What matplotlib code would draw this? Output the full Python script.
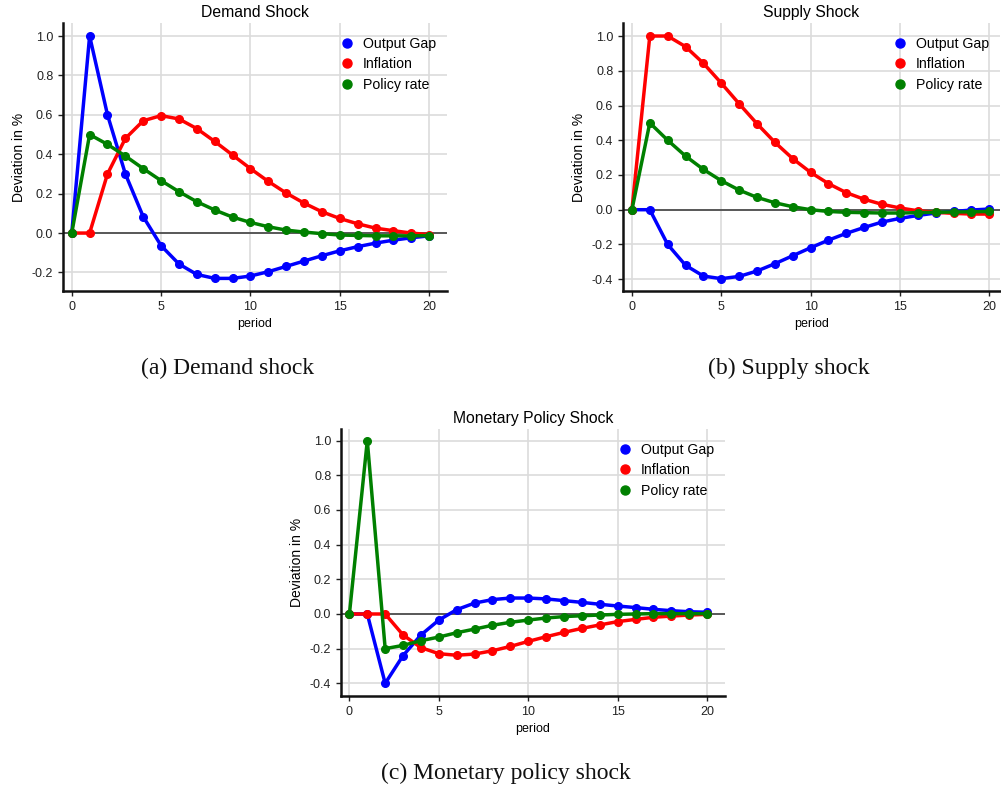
import matplotlib
matplotlib.use("Agg")
import matplotlib.pyplot as plt
from matplotlib.lines import Line2D

periods = list(range(21))

# Demand shock
demand_output = [0, 1.0, 0.6, 0.3, 0.083, -0.064, -0.157, -0.21, -0.23, -0.23, -0.218,
                 -0.196, -0.169, -0.142, -0.115, -0.09, -0.069, -0.051, -0.036, -0.024, -0.014]
demand_infl = [0, 0, 0.3, 0.48, 0.57, 0.596, 0.579, 0.53, 0.465, 0.396, 0.327,
               0.262, 0.203, 0.152, 0.108, 0.074, 0.047, 0.025, 0.012, 0.0, -0.008]
demand_rate = [0, 0.5, 0.45, 0.391, 0.327, 0.266, 0.21, 0.159, 0.117, 0.081, 0.054,
               0.032, 0.015, 0.005, -0.003, -0.01, -0.012, -0.014, -0.014, -0.014, -0.013]

# Supply shock
supply_output = [0, 0, -0.2, -0.32, -0.382, -0.397, -0.384, -0.353, -0.311, -0.265, -0.219,
                 -0.175, -0.136, -0.102, -0.071, -0.05, -0.033, -0.019, -0.01, -0.002, 0.004]
supply_infl = [0, 1.0, 1.0, 0.939, 0.843, 0.729, 0.61, 0.495, 0.388, 0.294, 0.215,
               0.15, 0.098, 0.06, 0.031, 0.01, -0.006, -0.015, -0.021, -0.025, -0.025]
supply_rate = [0, 0.5, 0.4, 0.309, 0.232, 0.167, 0.113, 0.071, 0.04, 0.017, 0.0,
               -0.01, -0.015, -0.017, -0.019, -0.019, -0.017, -0.015, -0.013, -0.012, -0.01]

# Monetary policy shock
mp_output = [0, 0, -0.4, -0.24, -0.121, -0.035, 0.025, 0.063, 0.083, 0.092, 0.092,
             0.087, 0.077, 0.067, 0.056, 0.046, 0.037, 0.027, 0.019, 0.013, 0.01]
mp_infl = [0, 0, 0, -0.121, -0.194, -0.229, -0.238, -0.231, -0.212, -0.187, -0.158,
           -0.131, -0.106, -0.083, -0.063, -0.044, -0.031, -0.019, -0.012, -0.006, -0.002]
mp_rate = [0, 1.0, -0.2, -0.181, -0.154, -0.133, -0.108, -0.087, -0.065, -0.048, -0.035,
           -0.023, -0.015, -0.01, -0.006, -0.002, 0.0, 0.002, 0.002, 0.002, 0.002]

series_names = ["Output Gap", "Inflation", "Policy rate"]
series_colors = ["#0000ff", "#ff0000", "#008000"]
titles = ["Demand Shock", "Supply Shock", "Monetary Policy Shock"]
captions = ["(a) Demand shock", "(b) Supply shock", "(c) Monetary policy shock"]
yticks = [-0.4, -0.2, 0.0, 0.2, 0.4, 0.6, 0.8, 1.0]
xticks = [0, 5, 10, 15, 20]

plt.rcParams['font.family'] = ['Liberation Sans', 'DejaVu Sans']

W, H = 1001, 792
fig = plt.figure(figsize=(W / 100, H / 100), dpi=100)

def rect(x0, y0, x1, y1):
    return [x0 / W, 1 - y1 / H, (x1 - x0) / W, (y1 - y0) / H]

panels = [
    (rect(63, 23, 447, 291), (-0.49, 21.0), (-0.294, 1.066),
     [demand_output, demand_infl, demand_rate], (228, 368)),
    (rect(623, 23, 1000, 291), (-0.5, 20.6), (-0.468, 1.075),
     [supply_output, supply_infl, supply_rate], (789, 368)),
    (rect(341, 429, 725, 696), (-0.47, 21.0), (-0.473, 1.067),
     [mp_output, mp_infl, mp_rate], (506, 773)),
]

for (r, xl, yl, data, cap), title, caption in zip(panels, titles, captions):
    ax = fig.add_axes(r)
    ax.set_xlim(*xl)
    ax.set_ylim(*yl)
    ax.grid(True, color="#dcdcdc", linewidth=1.2)
    ax.set_axisbelow(True)
    ax.axhline(0, color="#333333", linewidth=1.1, zorder=1)
    for vals, c in zip(data, series_colors):
        ax.plot(periods, vals, color=c, linewidth=2.5, marker="o", markersize=5.5, zorder=3)
    ax.set_xticks(xticks)
    ax.set_yticks([t for t in yticks if yl[0] <= t <= yl[1]])
    ax.yaxis.set_major_formatter(matplotlib.ticker.FormatStrFormatter("%.1f"))
    ax.tick_params(labelsize=9, length=3.5, width=1, colors="#222222")
    for s in ["top", "right"]:
        ax.spines[s].set_visible(False)
    for s in ["left", "bottom"]:
        ax.spines[s].set_linewidth(1.8)
        ax.spines[s].set_color("#111111")
    ax.set_title(title, fontsize=11.3, pad=4)
    ax.set_xlabel("period", fontsize=9, labelpad=4)
    ax.set_ylabel("Deviation in %", fontsize=10, labelpad=4)
    handles = [Line2D([], [], marker="o", linestyle="none", color=c, markersize=6.5)
               for c in series_colors]
    ax.legend(handles, series_names, loc="upper right", frameon=False, fontsize=10.2,
              handletextpad=0.1, labelspacing=0.45, borderaxespad=0.4,
              bbox_to_anchor=(1.0, 0.99))
    fig.text(cap[0] / W, 1 - cap[1] / H, caption, ha="center", va="center",
             fontsize=17, family=["Liberation Serif", "DejaVu Serif"], color="#111111")

fig.savefig("out.png", dpi=100)
